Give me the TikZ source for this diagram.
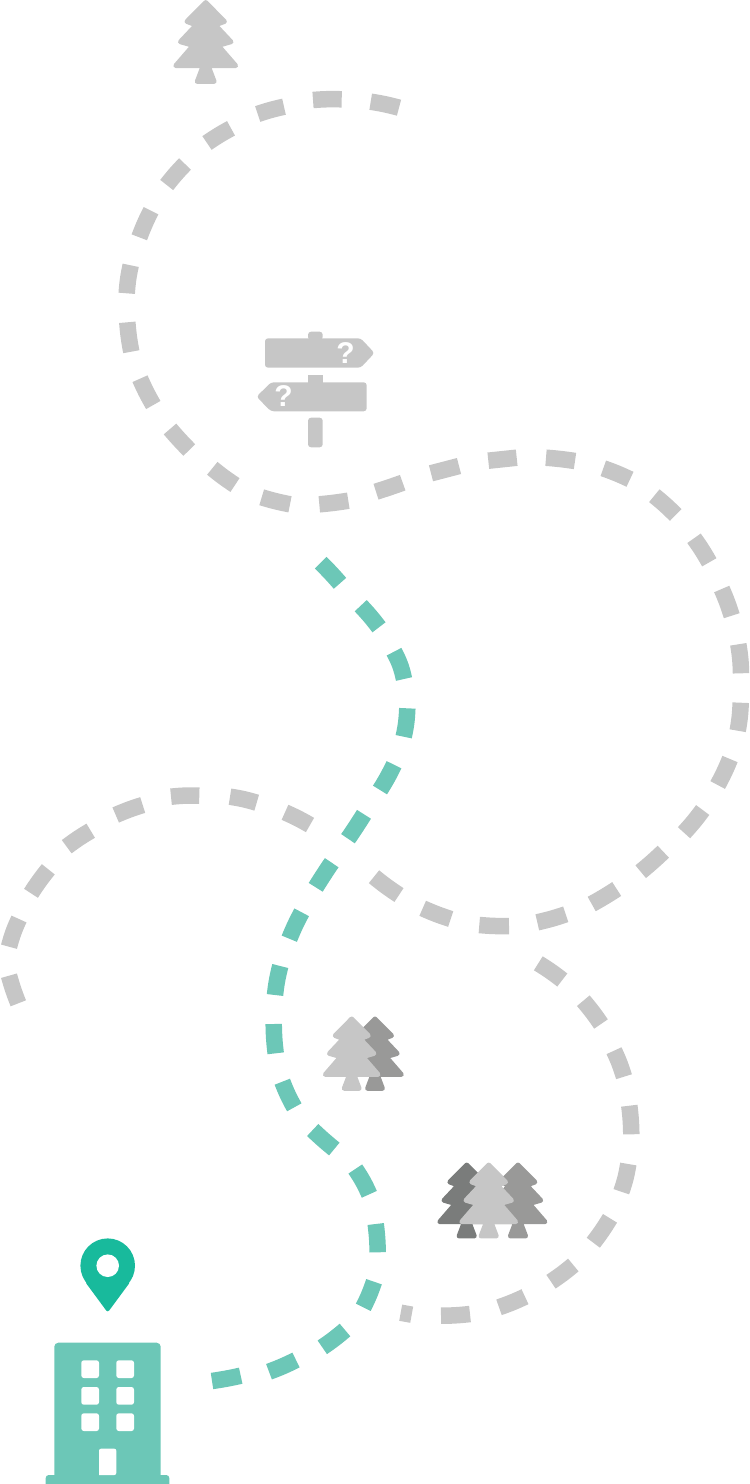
\documentclass[tikz,border=0pt]{standalone}
\usepackage{fontspec}
\setmainfont{Liberation Sans}
\definecolor{roadgrey}{HTML}{C6C6C6}
\definecolor{roadteal}{HTML}{6CC7B7}
\definecolor{pingreen}{HTML}{18BA9C}
\definecolor{treemid}{HTML}{999998}
\definecolor{treedark}{HTML}{7A7C7B}
\tikzset{
  greydash/.style={draw=roadgrey,line width=16.5pt},
  tealdash/.style={draw=roadteal,line width=16.5pt},
  pics/pinetree/.style={code={
    \path[fill=#1,draw=#1,line width=4.8pt,line join=round] (0,2.5) -- (18.8,21.5) -- (9.5,25) -- (25.3,41.8) -- (12.5,45.5)
      -- (30,65.7) -- (2.5,65.7) -- (8.5,81.5) -- (-8.5,81.5) -- (-2.5,65.7) -- (-30,65.7) -- (-12.5,45.5)
      -- (-25.3,41.8) -- (-9.5,25) -- (-18.8,21.5) -- cycle;
  }}
}
\begin{document}
\begin{tikzpicture}[x=1pt,y=-1pt]
\useasboundingbox (0,0) rectangle (750,1484);
\clip (0,0) rectangle (750,1484);
% grey road
\foreach \xa/\ya/\xb/\yb/\bd in {399/107.7/370.7/101.7/3,341.7/99.3/313/100/3,284/106.7/257.7/114/3,231/128.3/207/143/3,
  185/164/166.7/185/3,151/210.7/139.3/237.3/3,130.7/265.3/126.7/293.3/4,127.3/322.3/131.3/351.7/3,140/378.7/153.3/405/3,170/429/189.3/450/2,
  212.3/468.3/235/485/3,261.7/497.3/290/504.3/3,319.3/504.3/348.3/500.7/2,376/491.7/402.7/482.7/1,431/473.3/459/466/0,488.3/460.7/516.7/457.7/0,
  546/457.7/575/461/-2,603.3/468.3/630/479.3/-3,654.3/495.7/675.7/515/-3,694/538.3/709.3/562.3/-3,721.7/589/731.7/615.7/-3,738.3/644.3/741/673.3/-4,
  740.7/702.7/737.7/730.7/-4,730/759/717.7/785/-3,702.7/810/684/832.7/-3,663.3/851.7/640.7/871.7/-2,616.7/889/591.7/904/-2,565.7/914.3/537.3/922.3/-3,
  509/926/479.3/925/-3,450.7/919/422.7/908.3/-3,399/895/374/876.7/-3,310/825/285/812.3/3,256.7/802.7/230/796.7/4,199.3/795.7/171/796.7/4,
  142.7/805/115.7/815/3,90.7/830.7/66.7/846.7/3,48.3/869.3/31/893.3/3,19/919/9/946.7/5,9/975.7/18.3/1003.3/3}
  \draw[greydash] (\xa,\ya) to[bend right=\bd] (\xb,\yb);
% second grey road
\foreach \xa/\ya/\xb/\yb/\bd in {538.3/963.3/562.3/980/-3,583.3/1000.7/601/1024/-3,614/1050.7/624/1076.7/-4,629.3/1105.7/631.3/1134.3/-3,
  628.3/1164/621.3/1191.7/-5,610/1218.3/593.3/1242.7/-3,573.3/1265/551/1281.7/-3,525/1296.7/499/1307.3/-3,470/1314/441/1315.7/-3,411.7/1314.7/400.7/1312.7/0}
  \draw[greydash] (\xa,\ya) to[bend right=\bd] (\xb,\yb);
% teal road
\foreach \xa/\ya/\xb/\yb/\bd in {320.7/562.7/340/583.3/-2,360.7/605.7/379/627.3/-3,394/651.7/404/679/-8,407.3/708.3/403.7/736.7/-5,
  394/764.7/380/790/-3,364/814.3/348/838.7/-1,331.7/862.7/315.7/887.3/1,301.7/912.3/289.3/938.7/3,280.3/966/275/995/4,273.7/1024/275.7/1053.3/3,
  282.3/1081.7/294.3/1107.3/4,312.7/1130/334.3/1149/2,355.3/1169/369.3/1194.3/-5,375.7/1224/377.7/1252.3/-3,374/1281.7/363.3/1307.3/-4,
  345/1330/322.3/1347.3/-3,296/1360/269/1371.7/-3,240.7/1375.7/212/1381/-2}
  \draw[tealdash] (\xa,\ya) to[bend right=\bd] (\xb,\yb);
% trees
\pic at (205.7,0) {pinetree=roadgrey};
\pic[scale=0.88] at (375,1016.7) {pinetree=treemid};
\pic[scale=0.88] at (351.7,1016.7) {pinetree=roadgrey};
\pic[scale=0.9] at (466.7,1162.7) {pinetree=treedark};
\pic[scale=0.9] at (518,1162.7) {pinetree=treemid};
\pic[scale=0.9] at (488.7,1162.7) {pinetree=roadgrey};
% signpost
\fill[roadgrey,rounded corners=3pt] (308,340) -- (308,331.7) -- (322.7,331.7) -- (322.7,340) -- cycle;
\fill[roadgrey,rounded corners=3pt] (265,338.3) -- (360.7,338.3) -- (374.5,353) -- (360.7,367.7) -- (265,367.7) -- cycle;
\fill[roadgrey] (308,375) rectangle (322.7,384);
\fill[roadgrey,rounded corners=3pt] (366.7,382.3) -- (271,382.3) -- (256.5,396.7) -- (271,411.3) -- (366.7,411.3) -- cycle;
\fill[roadgrey,rounded corners=3pt] (308,417.7) -- (322.7,417.7) -- (322.7,447.3) -- (308,447.3) -- cycle;
\node[text=white,inner sep=0pt,font=\fontsize{30}{30}\selectfont\bfseries] (signtop) at (345.5,353) {?};
\node[text=white,inner sep=0pt,font=\fontsize{30}{30}\selectfont\bfseries] (signlow) at (283.5,396) {?};
% pin
\fill[pingreen] (107.7,1265.7) circle[radius=27.3];
\fill[pingreen,rounded corners=2.5pt] (85,1281.7) -- (107.7,1312.5) -- (130.4,1281.7) -- cycle;
\fill[white] (107.7,1265.7) circle[radius=11.3];
% building
\fill[roadteal,rounded corners=4pt] (54.3,1480) -- (54.3,1342.7) -- (160.7,1342.7) -- (160.7,1480) -- cycle;
\fill[roadteal,rounded corners=3pt] (45.7,1495) -- (45.7,1475) -- (169.3,1475) -- (169.3,1495) -- cycle;
\foreach \wx in {81.3,116.3}
  \foreach \wy in {1360.3,1387,1413.3}
    \fill[white,rounded corners=2.5pt] (\wx,\wy) rectangle ++(17.7,17.7);
\fill[white,rounded corners=2pt] (99,1475) -- (99,1448.7) -- (116.3,1448.7) -- (116.3,1475) [sharp corners] -- cycle;
\end{tikzpicture}
\end{document}
